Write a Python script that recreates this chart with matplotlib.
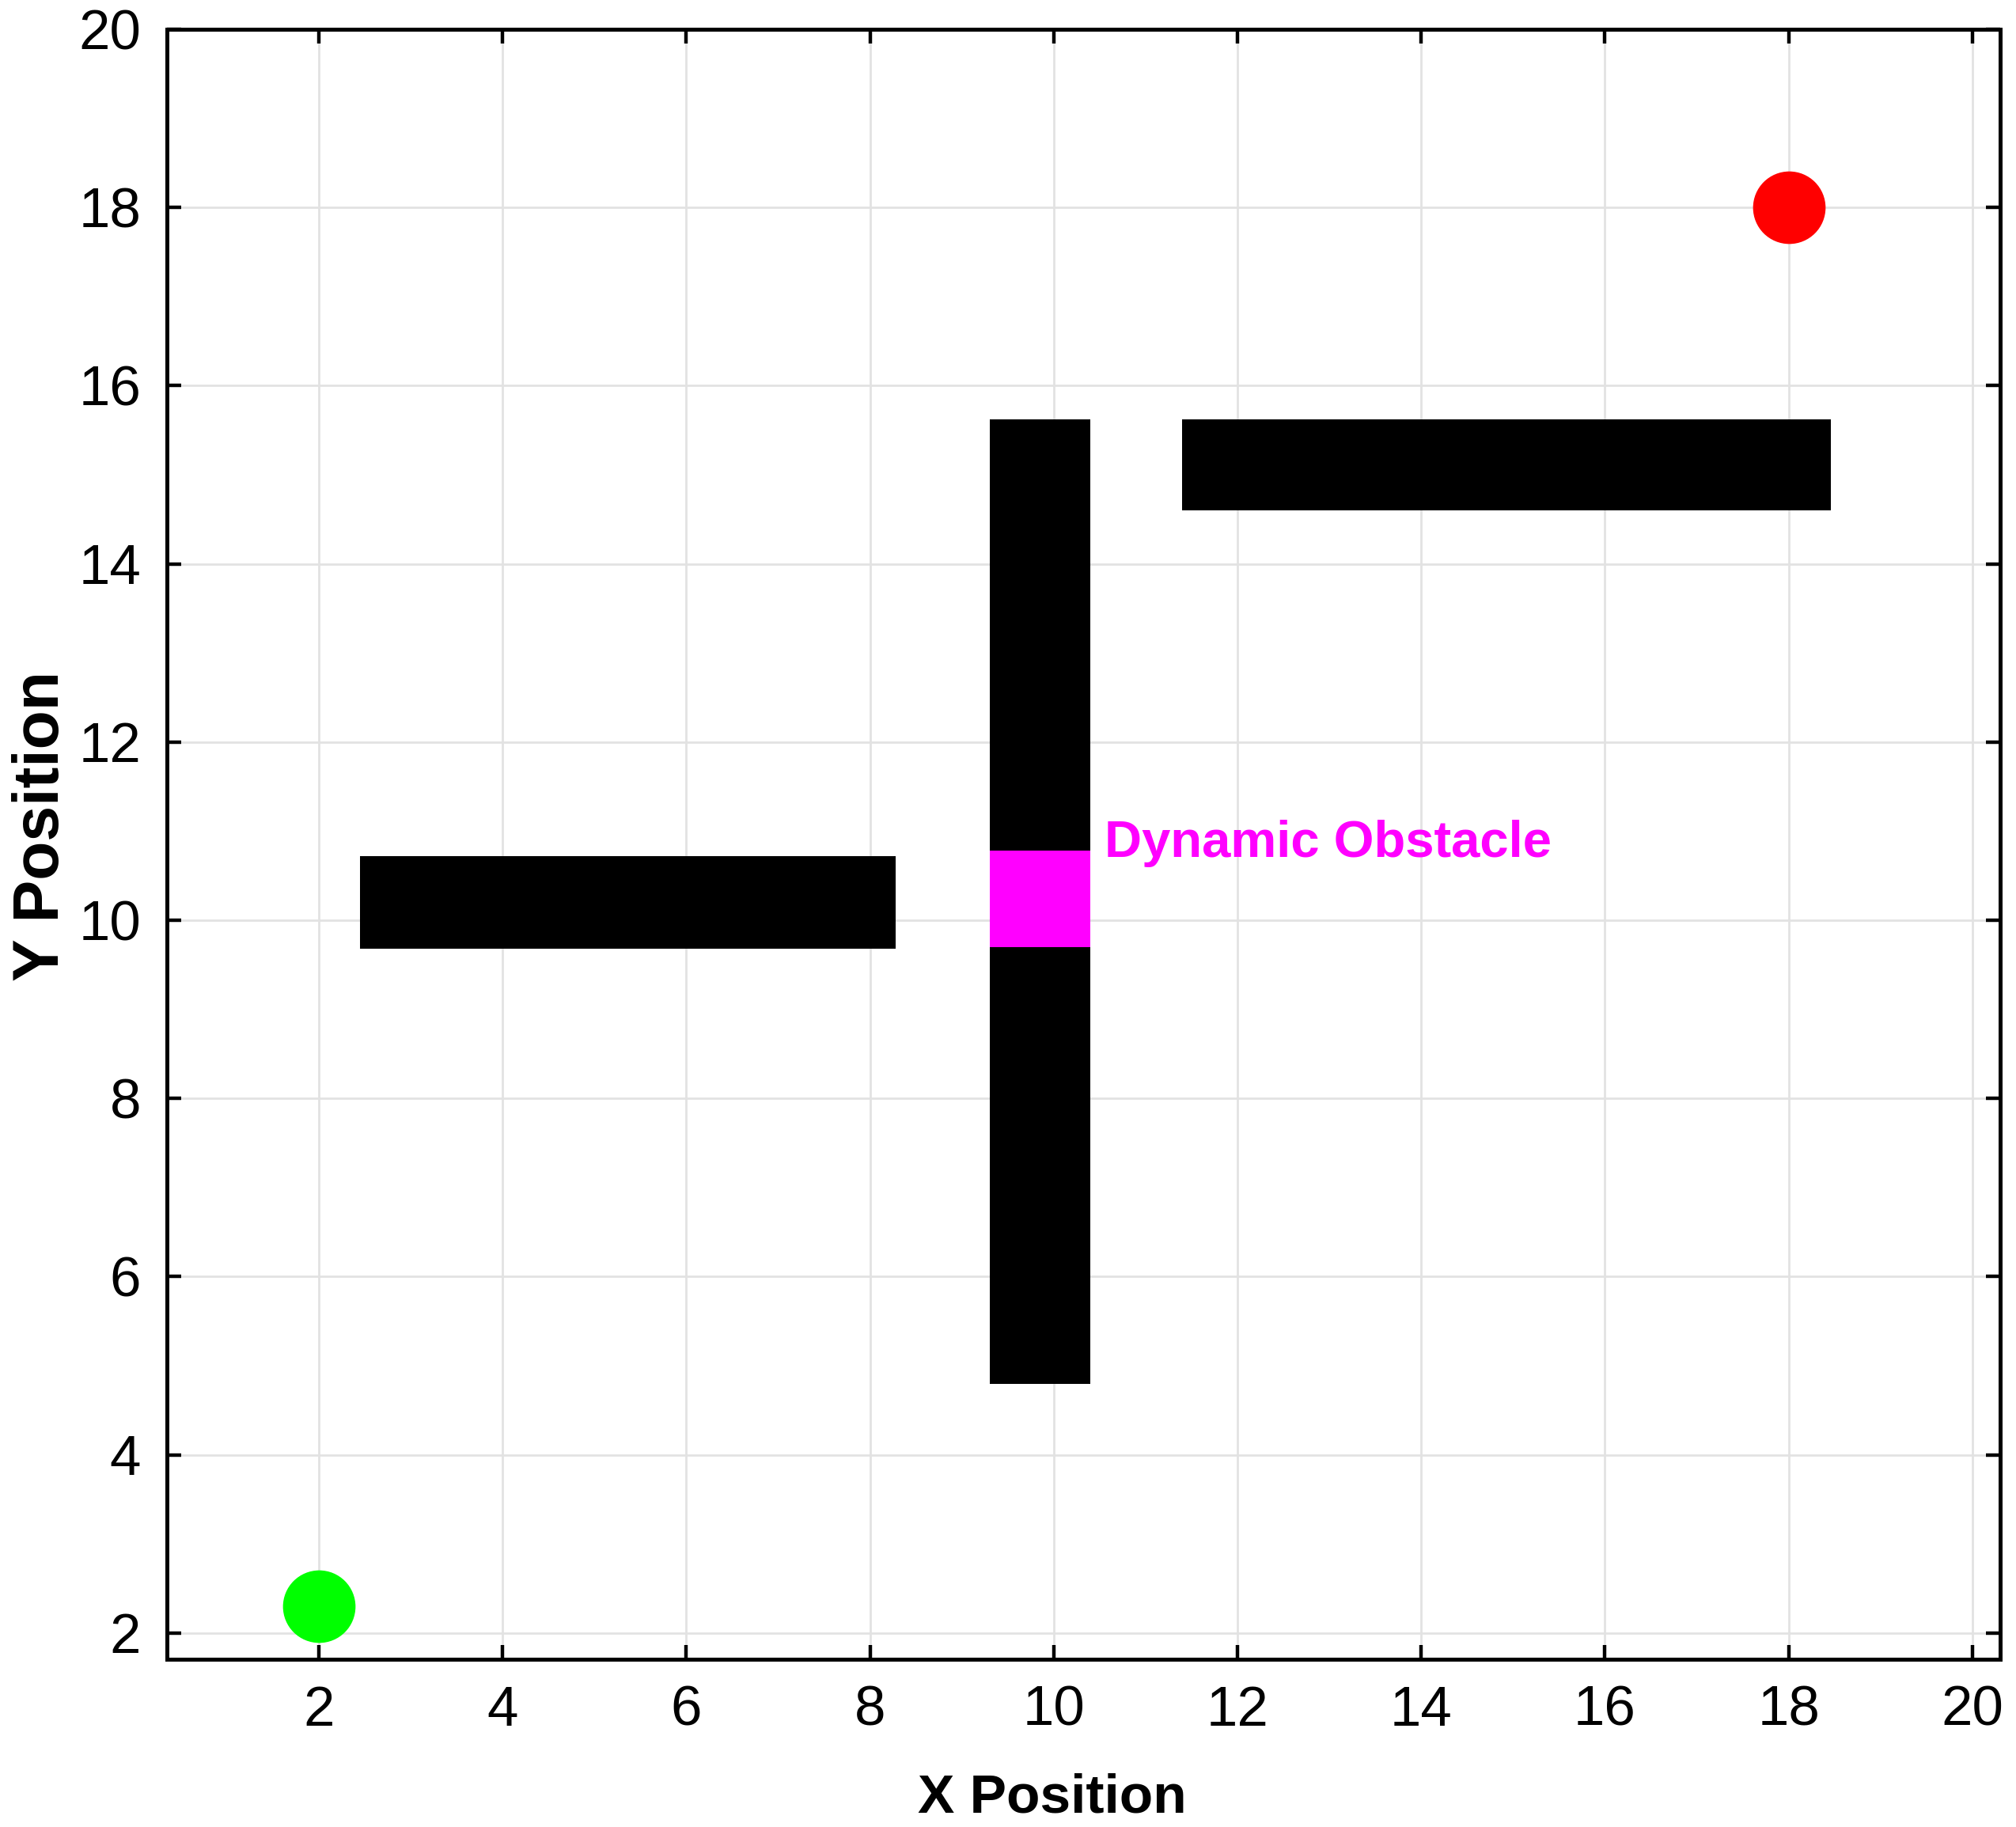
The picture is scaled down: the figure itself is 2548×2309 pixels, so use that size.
import matplotlib
matplotlib.use('Agg')
import matplotlib.pyplot as plt
from matplotlib.patches import Rectangle

plt.rcParams['font.family'] = ['Liberation Sans', 'DejaVu Sans']

# static obstacles: lower-left corner, width, height
obs_x = [2.45, 9.3, 11.4]
obs_y = [9.68, 4.8, 14.6]
obs_w = [5.83, 1.1, 7.06]
obs_h = [1.04, 10.82, 1.02]

# dynamic obstacle
dyn_x, dyn_y, dyn_w, dyn_h = 9.3, 9.7, 1.1, 1.08
dyn_label = 'Dynamic Obstacle'

start = (2.0, 2.3)
goal = (18.0, 18.0)

ticks = [2, 4, 6, 8, 10, 12, 14, 16, 18, 20]

fig = plt.figure(figsize=(12.74, 11.545), dpi=200)
ax = fig.add_axes([0.083, 0.092, 0.909, 0.892])

for x, y, w, h in zip(obs_x, obs_y, obs_w, obs_h):
    ax.add_patch(Rectangle((x, y), w, h, facecolor='black', edgecolor='none', zorder=3))
ax.add_patch(Rectangle((dyn_x, dyn_y), dyn_w, dyn_h, facecolor='#ff00ff', edgecolor='none', zorder=4))
ax.text(dyn_x + dyn_w + 0.15, dyn_y + dyn_h + 0.08, dyn_label, color='#ff00ff',
        fontsize=23.5, fontweight='bold', va='center', ha='left', zorder=5)

ax.plot(start[0], start[1], 'o', color='#00ff00', markersize=33, markeredgewidth=0, zorder=5)
ax.plot(goal[0], goal[1], 'o', color='#ff0000', markersize=33, markeredgewidth=0, zorder=5)

ax.set_xlim(0.35, 20.3)
ax.set_ylim(1.71, 20)
ax.set_xticks(ticks)
ax.set_yticks(ticks)
ax.grid(True, color='#e2e2e2', linewidth=1.0)
ax.set_axisbelow(True)
ax.tick_params(direction='in', length=6.5, width=1.6, labelsize=25.5,
               top=True, right=True, pad=12)
for s in ax.spines.values():
    s.set_linewidth(1.8)

ax.set_xlabel('X Position', fontsize=25, fontweight='bold')
ax.xaxis.set_label_coords(0.483, -0.07)
ax.set_ylabel('Y Position', fontsize=29, fontweight='bold')
ax.yaxis.set_label_coords(-0.052, 0.511)

fig.savefig('out.png', dpi=200, facecolor='white')
